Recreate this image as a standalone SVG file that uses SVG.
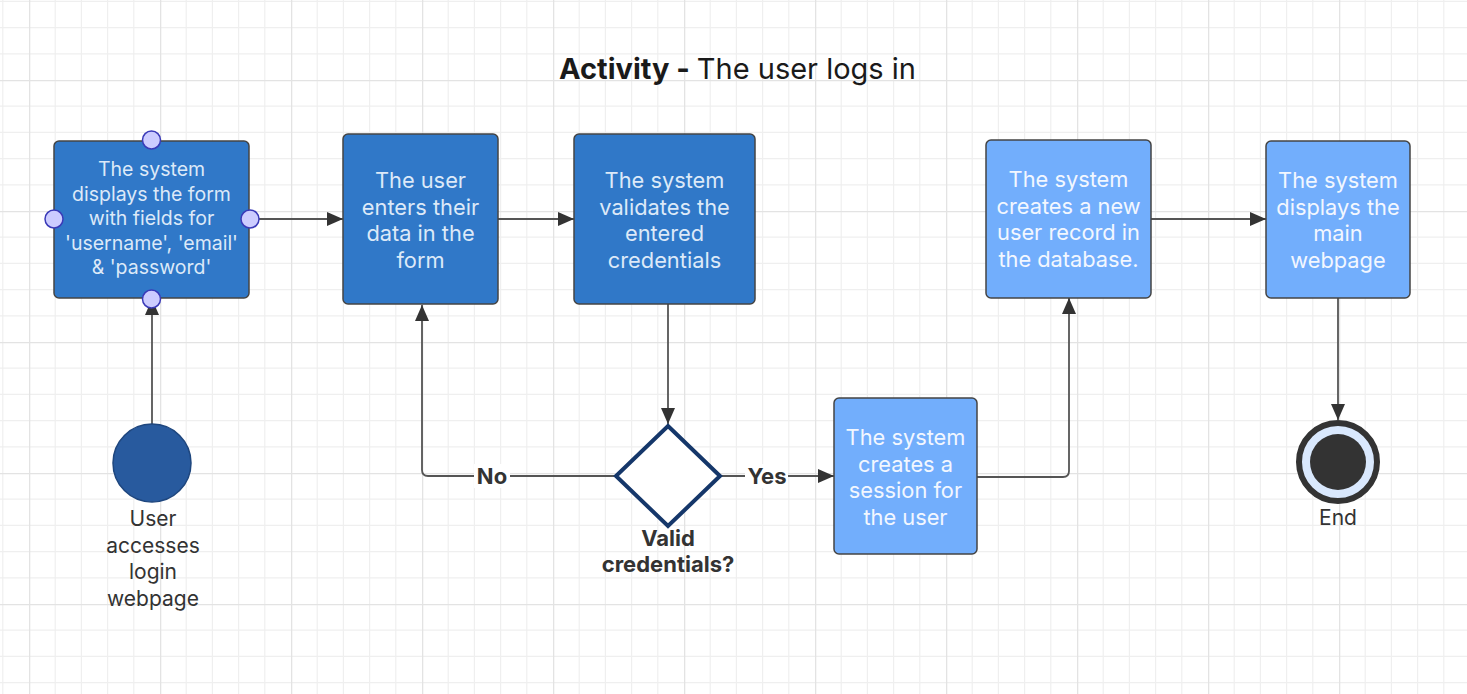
<svg xmlns="http://www.w3.org/2000/svg" width="1467" height="694" viewBox="0 0 1467 694">
<defs>
<pattern id="grid" x="29" y="80" width="131" height="131" patternUnits="userSpaceOnUse">
<path d="M26.2 0V131M52.4 0V131M78.6 0V131M104.8 0V131M0 26.2H131M0 52.4H131M0 78.6H131M0 104.8H131" stroke="#efefef" stroke-width="1.2" fill="none"/>
<path d="M0.5 0V131M0 0.5H131" stroke="#e3e3e3" stroke-width="1.6" fill="none"/>
</pattern>
<marker id="arr" viewBox="0 0 16 14" refX="16" refY="7" markerWidth="16" markerHeight="14" markerUnits="userSpaceOnUse" orient="auto">
<path d="M0 0L16 7L0 14Z" fill="#333"/>
</marker>
<style>
.box{stroke:#444;stroke-width:1.5}
.dark{fill:#3078c8}
.light{fill:#72aefc}
.bt{font-family:Inter,"Liberation Sans",sans-serif;font-size:21.8px;text-anchor:middle;fill:#dce9f8}
.sm{font-size:19.5px}
.lt{fill:#f2f7ff}
.lbl{font-family:Inter,"Liberation Sans",sans-serif;font-size:21px;text-anchor:middle;fill:#333}
.bl{font-weight:bold;font-size:22px}
.con{fill:none;stroke:#555;stroke-width:1.8}
.handle{fill:#ccccff;stroke:#3a3ab8;stroke-width:1.5}
</style>
</defs>
<rect width="1467" height="694" fill="#fff"/>
<rect width="1467" height="694" fill="url(#grid)"/>

<text x="737.5" y="79" text-anchor="middle" font-family="Inter,'Liberation Sans',sans-serif" font-size="29" fill="#1a1a1a"><tspan font-weight="bold">Activity - </tspan>The user logs in</text>

<g id="connectors">
<path class="con" d="M152 424V299" marker-end="url(#arr)"/>
<path class="con" d="M259 219H343" marker-end="url(#arr)"/>
<path class="con" d="M498 219H574" marker-end="url(#arr)"/>
<path class="con" d="M668 304V424" marker-end="url(#arr)"/>
<path class="con" d="M615 476H428Q422 476 422 470V305" marker-end="url(#arr)"/>
<path class="con" d="M721 476H834" marker-end="url(#arr)"/>
<path class="con" d="M977 477H1063Q1069 477 1069 471V298" marker-end="url(#arr)"/>
<path class="con" d="M1151 219H1266" marker-end="url(#arr)"/>
<path class="con" d="M1338 298V420" marker-end="url(#arr)"/>
</g>

<g id="label-no"><rect x="474" y="464" width="36" height="24" fill="#fff"/><text class="lbl bl" x="492" y="484">No</text></g>
<g id="label-yes"><rect x="745" y="464" width="43" height="24" fill="#fff"/><text class="lbl bl" x="767" y="484">Yes</text></g>

<g id="start">
<circle cx="152" cy="463" r="39" fill="#285a9e" stroke="#1e467e" stroke-width="1.5"/>
<text class="lbl"><tspan x="153" y="526">User</tspan><tspan x="153" y="553">accesses</tspan><tspan x="153" y="579">login</tspan><tspan x="153" y="606">webpage</tspan></text>
</g>

<g id="node-display-form">
<rect class="box dark" x="54" y="141" width="195" height="157" rx="5"/>
<text class="bt sm"><tspan x="151.5" y="176">The system</tspan><tspan x="151.5" y="200.5">displays the form</tspan><tspan x="151.5" y="225">with fields for</tspan><tspan x="151.5" y="249.5">'username', 'email'</tspan><tspan x="151.5" y="274">&amp; 'password'</tspan></text>
<circle class="handle" cx="151.5" cy="140" r="9"/>
<circle class="handle" cx="54" cy="219" r="9"/>
<circle class="handle" cx="250" cy="219" r="9"/>
<circle class="handle" cx="151.5" cy="299" r="9"/>
</g>

<g id="node-enter-data">
<rect class="box dark" x="343" y="134" width="155" height="170" rx="5"/>
<text class="bt"><tspan x="420.5" y="188">The user</tspan><tspan x="420.5" y="214.5">enters their</tspan><tspan x="420.5" y="241">data in the</tspan><tspan x="420.5" y="267.5">form</tspan></text>
</g>

<g id="node-validate">
<rect class="box dark" x="574" y="134" width="181" height="170" rx="5"/>
<text class="bt"><tspan x="664.5" y="188">The system</tspan><tspan x="664.5" y="214.5">validates the</tspan><tspan x="664.5" y="241">entered</tspan><tspan x="664.5" y="267.5">credentials</tspan></text>
</g>

<g id="decision">
<path d="M668 426L720 476L668 526L616 476Z" fill="#fff" stroke="#15376a" stroke-width="4" stroke-linejoin="miter"/>
<text class="lbl bl"><tspan x="668" y="546">Valid</tspan><tspan x="668" y="572">credentials?</tspan></text>
</g>

<g id="node-session">
<rect class="box light" x="834" y="398" width="143" height="156" rx="5"/>
<text class="bt lt"><tspan x="905.5" y="445">The system</tspan><tspan x="905.5" y="471.5">creates a</tspan><tspan x="905.5" y="498">session for</tspan><tspan x="905.5" y="524.5">the user</tspan></text>
</g>

<g id="node-record">
<rect class="box light" x="986" y="140" width="165" height="158" rx="5"/>
<text class="bt lt"><tspan x="1068.5" y="187">The system</tspan><tspan x="1068.5" y="213.5">creates a new</tspan><tspan x="1068.5" y="240">user record in</tspan><tspan x="1068.5" y="266.5">the database.</tspan></text>
</g>

<g id="node-main">
<rect class="box light" x="1266" y="141" width="144" height="157" rx="5"/>
<text class="bt lt"><tspan x="1338" y="188">The system</tspan><tspan x="1338" y="214.5">displays the</tspan><tspan x="1338" y="241">main</tspan><tspan x="1338" y="267.5">webpage</tspan></text>
</g>

<g id="end">
<circle cx="1338" cy="462" r="39" fill="#d9e8fd" stroke="#333" stroke-width="6"/>
<circle cx="1338" cy="462" r="28" fill="#333"/>
<text class="lbl"><tspan x="1338" y="525">End</tspan></text>
</g>
</svg>
